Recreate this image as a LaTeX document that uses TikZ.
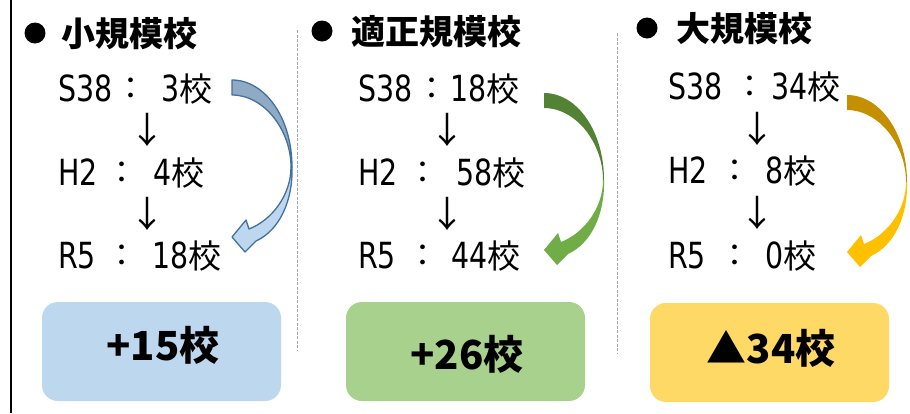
\documentclass[tikz,border=0pt]{standalone}
\usepackage{fontspec}
\setmainfont{DejaVu Sans}
\newfontfamily\latn{DejaVu Sans}[FakeStretch=0.79]
\newfontfamily\cjk{Noto Sans CJK JP}

\definecolor{boxblue}{HTML}{BDD7EE}
\definecolor{boxgreen}{HTML}{A9D18E}
\definecolor{boxyellow}{HTML}{FFD966}
\definecolor{arrbluebk}{HTML}{8FAAC5}
\definecolor{arrbluefr}{HTML}{BDD7EE}
\definecolor{arrblueln}{HTML}{41719C}
\definecolor{arrgreenbk}{HTML}{548235}
\definecolor{arrgreenfr}{HTML}{70AD47}
\definecolor{arryelbk}{HTML}{C49000}
\definecolor{arryelfr}{HTML}{FFC000}
\definecolor{sepgray}{HTML}{A6A6A6}

\newcommand{\myCurvArrow}[4]{%
\begin{scope}[shift={#1}]
\path[fill=#2,#4] (0,0) .. controls (33,0) and (60,38) .. (60,87) -- (59,87) .. controls (59,50) and (32,15) .. (0,15) -- cycle;
\path[fill=#3,#4] (59,87) .. controls (59,115) and (40,140) .. (17,149) -- (14,140) -- (0,157) -- (13,172) -- (24,161) .. controls (48,150) and (61,120) .. (60,87) -- cycle;
\end{scope}}
\newcommand{\kou}{{\cjk\fontsize{33}{38}\selectfont 校}}

\tikzset{
  title/.style={anchor=base west, inner sep=0pt, font=\fontsize{34}{40}\selectfont\cjk\bfseries},
  line/.style={anchor=base west, inner sep=0pt, font=\fontsize{36}{40}\selectfont\latn},
  colon/.style={anchor=center, inner sep=0pt, font=\fontsize{31}{36}\selectfont\cjk},
  darr/.style={anchor=center, inner sep=0pt, font=\fontsize{36}{40}\selectfont\cjk},
  resbox/.style={rounded corners=16pt, minimum width=239pt, minimum height=99pt, inner sep=0pt, draw=none},
  restext/.style={anchor=center, inner sep=0pt, font=\fontsize{40}{46}\selectfont\cjk\bfseries},
  sep/.style={draw=sepgray, line width=1pt, dash pattern=on 3pt off 1.5pt},
  bullet/.style={circle, fill=black, minimum size=21pt, inner sep=0pt}
}

\begin{document}
\begin{tikzpicture}[x=1pt,y=-1pt]
\useasboundingbox (0,0) rectangle (910,413);
\fill[white] (0,0) rectangle (910,413);

% left border
\draw[line width=1.5pt] (11,0) -- (11,413);

% separators
\coordinate (s1a) at (297,30); \coordinate (s1b) at (297,350);
\coordinate (s2a) at (617,33); \coordinate (s2b) at (617,354);
\draw[sep] (s1a) -- (s1b);
\draw[sep] (s2a) -- (s2b);

% ---------- column 1 ----------
\node[bullet] (bu1) at (35,33) {};
\node[title] (t1) at (61,46) {小規模校};
\node[line] (l1a) at (58,101) {S38};
\node[colon] (c1a) at (131,89) {：};
\node[line] (n1a) at (161,101) {3\kou};
\node[darr] (d1a) at (147,130) {↓};
\node[line] (l1b) at (58,185) {H2};
\node[colon] (c1b) at (122,173) {：};
\node[line] (n1b) at (153,185) {4\kou};
\node[darr] (d1b) at (147,214) {↓};
\node[line] (l1c) at (58,268) {R5};
\node[colon] (c1c) at (122,256) {：};
\node[line] (n1c) at (152,268) {18\kou};
\myCurvArrow{(232,80)}{arrbluebk}{arrbluefr}{draw=arrblueln, line width=1.3pt, line join=round}
\node[resbox, fill=boxblue] (b1) at (161.5,351.5) {};
\node[restext] (r1) at (163,345) {+15校};

% ---------- column 2 ----------
\node[bullet] (bu2) at (322,31) {};
\node[title] (t2) at (351,44) {適正規模校};
\node[line] (l2a) at (358,101) {S38};
\node[colon] (c2a) at (432,89) {：};
\node[line] (n2a) at (450,101) {18\kou};
\node[darr] (d2a) at (447,130) {↓};
\node[line] (l2b) at (358,185) {H2};
\node[colon] (c2b) at (423,173) {：};
\node[line] (n2b) at (456,185) {58\kou};
\node[darr] (d2b) at (447,214) {↓};
\node[line] (l2c) at (358,268) {R5};
\node[colon] (c2c) at (423,256) {：};
\node[line] (n2c) at (451,268) {44\kou};
\myCurvArrow{(544,93)}{arrgreenbk}{arrgreenfr}{draw=none}
\node[resbox, fill=boxgreen] (b2) at (465.5,351.5) {};
\node[restext] (r2) at (467,354) {+26校};

% ---------- column 3 ----------
\node[bullet] (bu3) at (647,28) {};
\node[title] (t3) at (676,41) {大規模校};
\node[line] (l3a) at (668,99) {S38};
\node[colon] (c3a) at (750,87) {：};
\node[line] (n3a) at (771,99) {34\kou};
\node[darr] (d3a) at (757,129) {↓};
\node[line] (l3b) at (668,183) {H2};
\node[colon] (c3b) at (735,171) {：};
\node[line] (n3b) at (765,183) {8\kou};
\node[darr] (d3b) at (757,213) {↓};
\node[line] (l3c) at (668,268) {R5};
\node[colon] (c3c) at (735,256) {：};
\node[line] (n3c) at (765,268) {0\kou};
\myCurvArrow{(847,95)}{arryelbk}{arryelfr}{draw=none}
\node[resbox, fill=boxyellow] (b3) at (769.5,352.5) {};
\node[restext] (r3) at (771,348) {▲34校};

\end{tikzpicture}
\end{document}
